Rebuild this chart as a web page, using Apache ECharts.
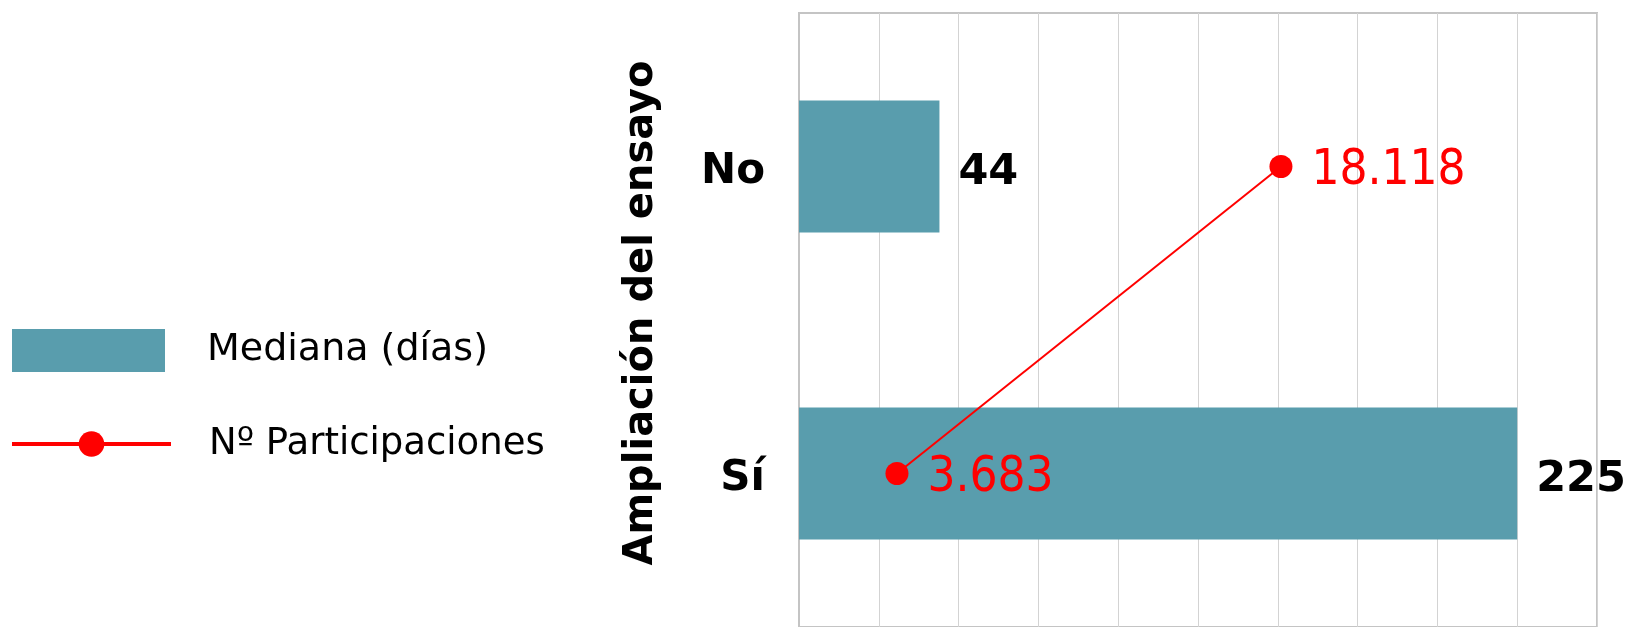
<!DOCTYPE html>
<html>
<head>
<meta charset="utf-8">
<script src="https://cdn.jsdelivr.net/npm/echarts@6/dist/echarts.min.js"></script>
<style>
html,body{margin:0;padding:0;background:#fff;}
#chart{width:1637px;height:627px;}
</style>
</head>
<body>
<div id="chart"></div>
<script>
const categories = ['No', 'Sí'];
const medianaDias = [44, 225];
const participaciones = [18118, 3683];
const seriesNames = ['Mediana (días)', 'Nº Participaciones'];
const axisTitle = 'Ampliación del ensayo';

function fmtThousands(v) {
  return String(v).replace(/\B(?=(\d{3})+(?!\d))/g, '.');
}

const chart = echarts.init(document.getElementById('chart'), null, {renderer: 'canvas'});
const FONT = 'DejaVu Sans';
chart.setOption({
  animation: false,
  backgroundColor: '#ffffff',
  legend: [
    {
      data: [{name: seriesNames[0], icon: 'rect'}],
      orient: 'vertical',
      left: 12, top: 329, padding: 0,
      itemWidth: 153, itemHeight: 43,
      textStyle: {fontFamily: FONT, fontSize: 38, color: '#000', lineHeight: 40, padding: [0, 0, 0, 37]}
    },
    {
      data: [seriesNames[1]],
      orient: 'vertical',
      left: 10, top: 424, padding: 0,
      itemWidth: 159, itemHeight: 32,
      lineStyle: {width: 4},
      textStyle: {fontFamily: FONT, fontSize: 37, color: '#000', lineHeight: 40, padding: [0, 0, 0, 33]}
    }
  ],
  grid: {
    left: 799, right: 40, top: 13, bottom: -6,
    show: true, borderColor: '#c4c4c4', borderWidth: 2, backgroundColor: 'transparent'
  },
  xAxis: [
    {
      type: 'value', min: 0, max: 250, interval: 25,
      axisLabel: {show: false}, axisTick: {show: false}, axisLine: {show: false},
      splitLine: {show: true, lineStyle: {color: '#d3d3d3', width: 1}}
    },
    {
      type: 'value', min: 0, max: 30000, interval: 3000, position: 'top',
      show: false, splitLine: {show: false}
    }
  ],
  yAxis: {
    type: 'category', data: categories, inverse: true,
    axisTick: {show: false},
    axisLine: {show: true, lineStyle: {color: '#c4c4c4', width: 2}},
    axisLabel: {
      fontFamily: FONT, fontWeight: 'bold', fontSize: 42, color: '#000', margin: 34,
      formatter: v => '{c|' + v + '}',
      rich: {c: {fontFamily: FONT, fontWeight: 'bold', fontSize: 42, color: '#000', padding: [12, 0, 0, 0]}}
    },
    name: axisTitle, nameLocation: 'middle', nameRotate: 90, nameGap: 137,
    nameTextStyle: {fontFamily: FONT, fontWeight: 'bold', fontSize: 40, color: '#000', padding: [0, 0, 0, 14]}
  },
  series: [
    {
      name: seriesNames[0], type: 'bar', data: medianaDias,
      xAxisIndex: 0, yAxisIndex: 0,
      barWidth: '43%',
      itemStyle: {color: '#599dad'},
      label: {show: true, position: 'right', distance: 19, offset: [0, 6], fontFamily: FONT, fontWeight: 'bold', fontSize: 43, color: '#000'}
    },
    {
      name: seriesNames[1], type: 'line',
      data: participaciones.map((v, i) => [v, categories[i]]),
      xAxisIndex: 1, yAxisIndex: 0,
      symbol: 'circle', symbolSize: 23,
      lineStyle: {color: '#ff0000', width: 2},
      itemStyle: {color: '#ff0000'},
      z: 5,
      label: {show: true, position: 'right', distance: 19, offset: [0, 5], fontFamily: '"DejaVu Sans Condensed", "DejaVu Sans"', fontSize: 49, color: '#ff0000',
        formatter: p => fmtThousands(p.value[0])}
    }
  ]
});
</script>
</body>
</html>
